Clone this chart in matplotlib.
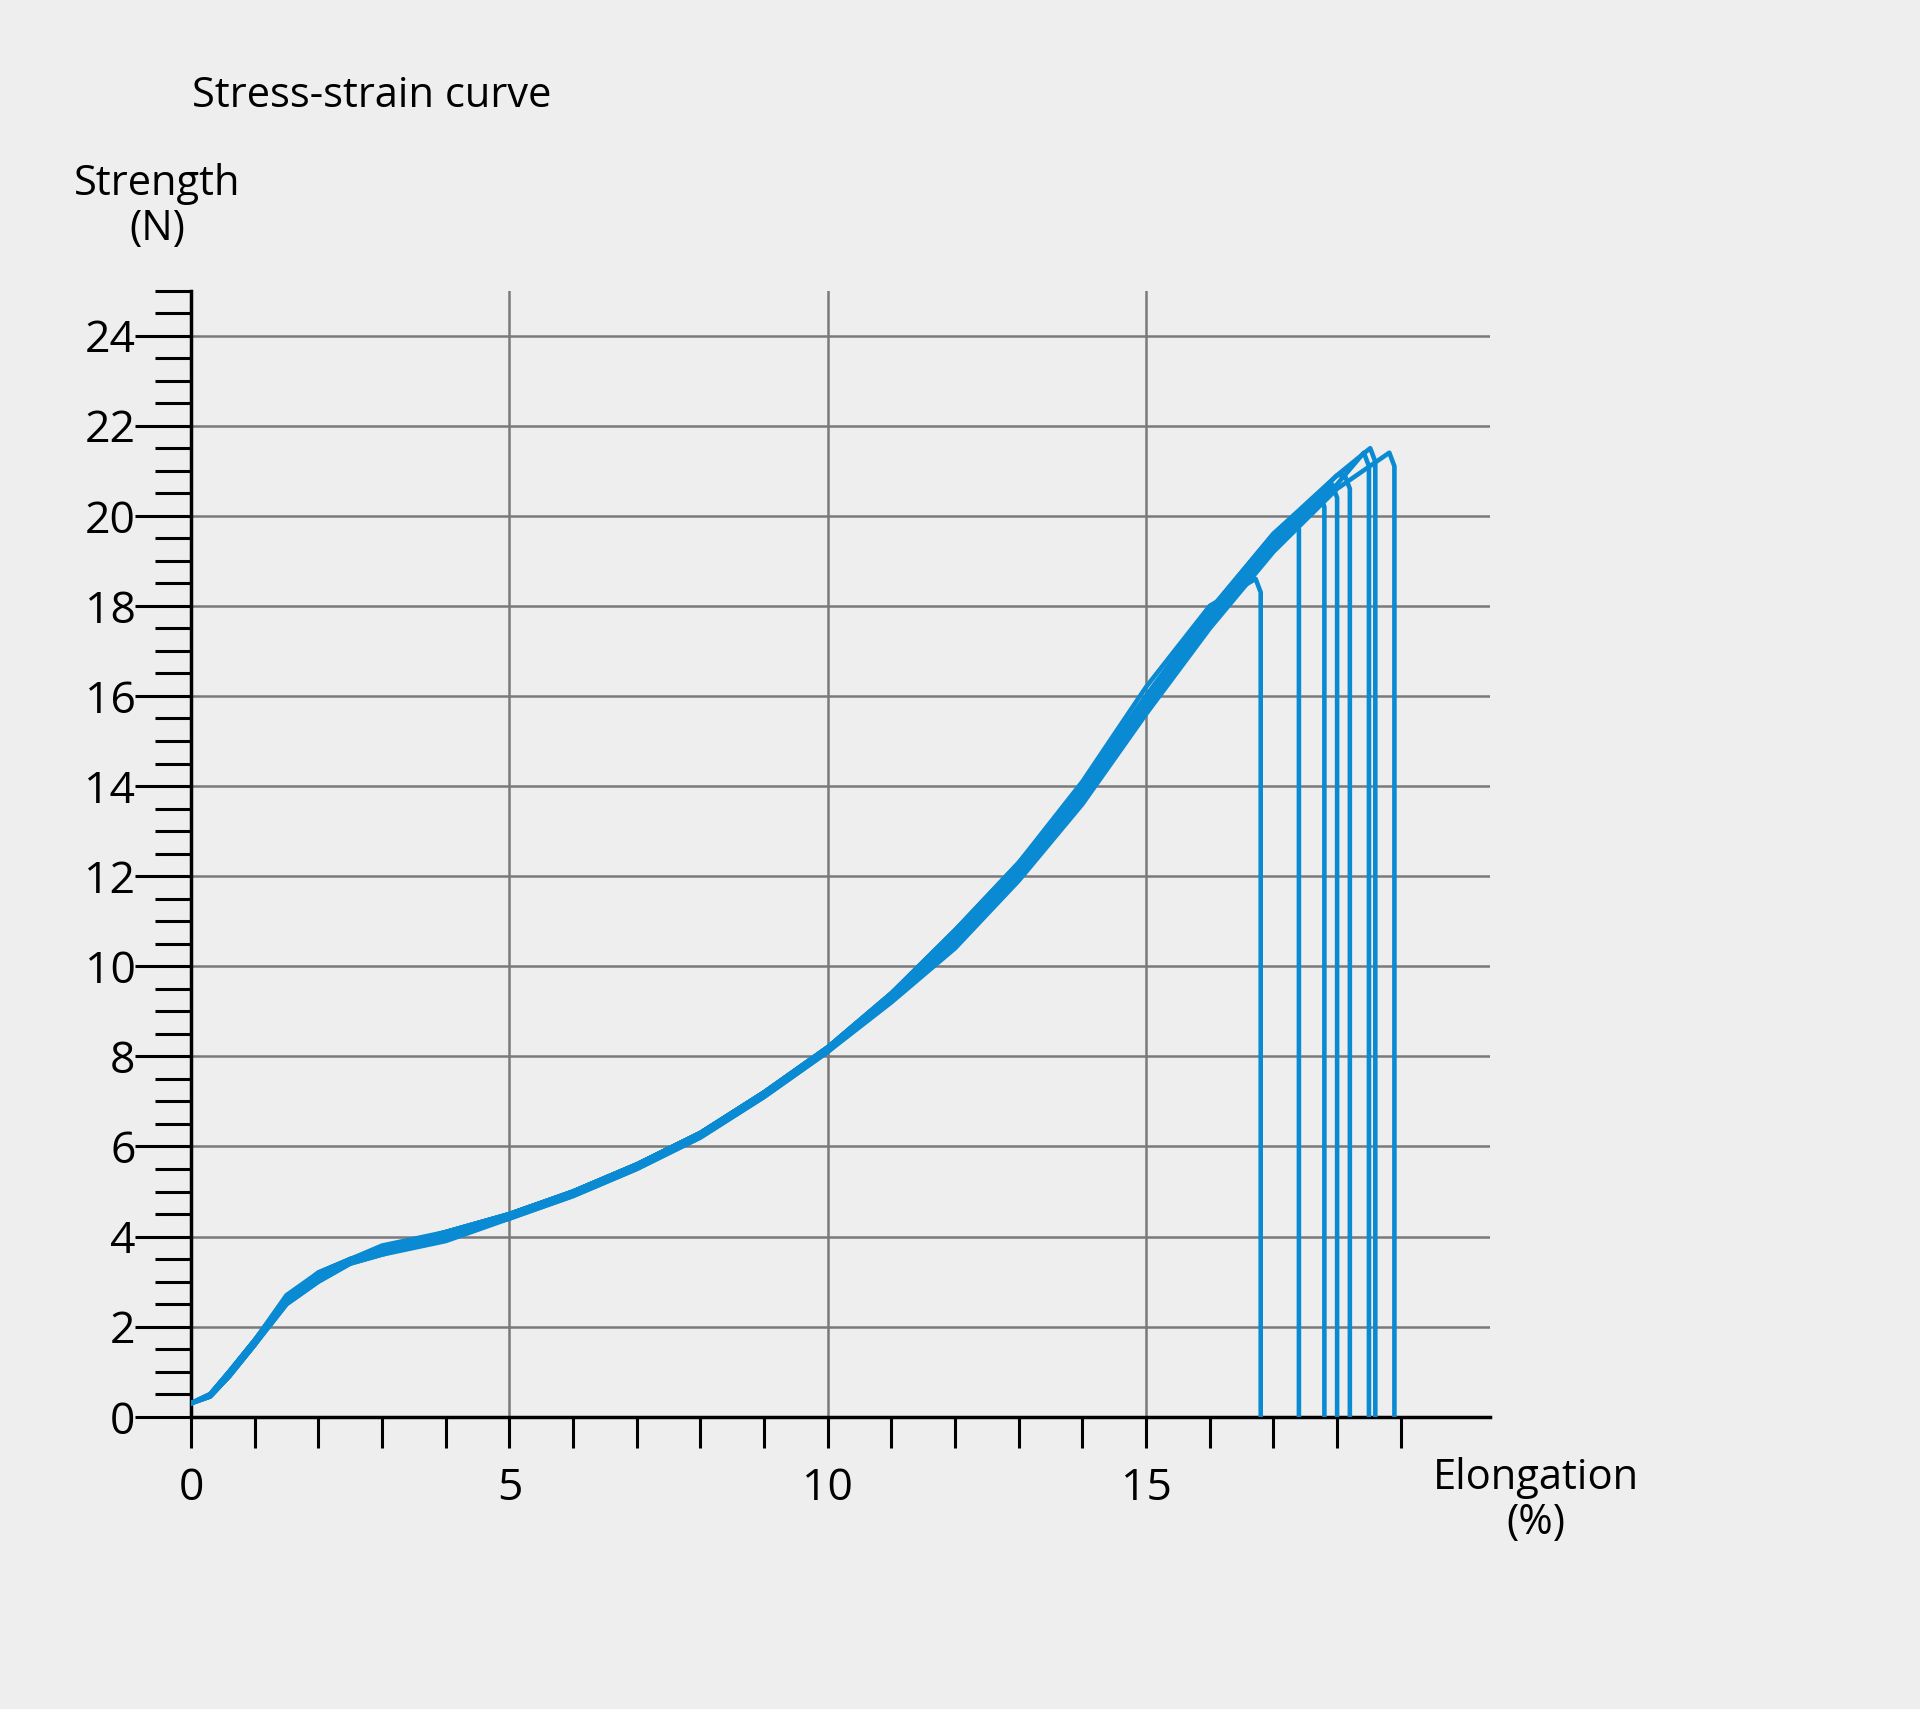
import matplotlib
matplotlib.use("Agg")
import matplotlib.pyplot as plt

# shared elongation sample points (%)
x_base = [0, 0.3, 0.6, 1.0, 1.5, 2.0, 2.5, 3.0, 4.0, 5.0, 6.0, 7.0, 8.0, 9.0, 10.0, 11.0, 12.0, 13.0, 14.0, 15.0, 16.0, 17.0, 18.0]
# strength curves (N) for each sample
y_curves = [
    [0.3, 0.5, 1.0, 1.7, 2.7, 3.2, 3.5, 3.7, 4.1, 4.5, 5.0, 5.6, 6.3, 7.2, 8.2, 9.4, 10.8, 12.3, 14.1, 16.2, 18.0],
    [0.3, 0.45, 0.9, 1.6, 2.6, 3.1, 3.5, 3.7, 4.0, 4.5, 5.0, 5.6, 6.3, 7.2, 8.2, 9.3, 10.6, 12.1, 13.9, 15.9, 17.8, 19.5],
    [0.3, 0.5, 1.0, 1.7, 2.6, 3.2, 3.5, 3.8, 4.1, 4.5, 5.0, 5.6, 6.3, 7.2, 8.2, 9.4, 10.8, 12.2, 14.0, 16.0, 17.9, 19.6],
    [0.3, 0.45, 0.9, 1.6, 2.5, 3.0, 3.4, 3.6, 4.0, 4.4, 4.9, 5.5, 6.2, 7.1, 8.1, 9.3, 10.6, 12.0, 13.8, 15.8, 17.7, 19.4],
    [0.3, 0.5, 1.0, 1.7, 2.6, 3.1, 3.5, 3.7, 4.1, 4.5, 5.0, 5.6, 6.3, 7.2, 8.2, 9.4, 10.7, 12.1, 13.9, 15.9, 17.8, 19.5, 20.9],
    [0.3, 0.45, 0.9, 1.6, 2.6, 3.1, 3.4, 3.7, 4.0, 4.4, 5.0, 5.6, 6.3, 7.2, 8.2, 9.3, 10.5, 12.0, 13.7, 15.7, 17.6, 19.3, 20.7],
    [0.3, 0.5, 1.0, 1.7, 2.6, 3.2, 3.5, 3.7, 4.1, 4.5, 5.0, 5.6, 6.3, 7.2, 8.2, 9.4, 10.8, 12.3, 14.0, 16.0, 17.9, 19.6, 20.9],
    [0.3, 0.45, 0.9, 1.6, 2.5, 3.0, 3.4, 3.6, 3.9, 4.4, 4.9, 5.5, 6.2, 7.1, 8.1, 9.2, 10.4, 11.9, 13.6, 15.6, 17.5, 19.2, 20.6],
]
# breaking elongation (%) and strength at break (N)
break_x = [16.8, 17.4, 17.8, 18.0, 18.2, 18.5, 18.6, 18.9]
break_y = [18.6, 20.0, 20.5, 20.7, 20.9, 21.4, 21.5, 21.4]

y_ticks = [0, 2, 4, 6, 8, 10, 12, 14, 16, 18, 20, 22, 24]
x_ticks = [0, 5, 10, 15]

bg = "#eeeeee"
blue = "#0a8ad2"
fig = plt.figure(figsize=(19.2, 17.09), dpi=100, facecolor=bg)
ax = fig.add_axes([0.0995, 0.171, 0.6765, 0.659], facecolor=bg)
ax.set_xlim(0, 20.4)
ax.set_ylim(0, 25)

for yv in y_ticks[1:]:
    ax.plot([0, 20.4], [yv, yv], color="#7a7a7a", lw=1.8, zorder=1)
for xv in x_ticks[1:]:
    ax.plot([xv, xv], [0, 25], color="#7a7a7a", lw=1.8, zorder=1)

for ys, bx, by in zip(y_curves, break_x, break_y):
    xs = x_base[:len(ys)] + [bx - 0.08, bx, bx]
    yv = list(ys) + [by, by - 0.3, 0]
    ax.plot(xs, yv, color=blue, lw=3.3, zorder=3, solid_joinstyle="round")

for s in ["top", "right"]:
    ax.spines[s].set_visible(False)
for s in ["left", "bottom"]:
    ax.spines[s].set_linewidth(2.5)
    ax.spines[s].set_color("black")

ax.set_yticks(y_ticks)
ax.set_yticklabels([str(v) for v in y_ticks], fontsize=32, family="Open Sans")
ax.set_yticks([v * 0.5 for v in range(0, 51)], minor=True)
ax.tick_params(axis="y", which="major", length=40, width=2.2, pad=0)
ax.tick_params(axis="y", which="minor", length=26, width=2.2)
ax.set_xticks(x_ticks)
ax.set_xticklabels([str(v) for v in x_ticks], fontsize=32, family="Open Sans")
ax.set_xticks(range(0, 20), minor=True)
ax.tick_params(axis="x", which="both", length=22, width=2.2, pad=14)

fig.text(0.1, 0.944, "Stress-strain curve", fontsize=30, family="Open Sans", va="center")
fig.text(0.082, 0.879, "Strength\n(N)", fontsize=30, family="Open Sans", ha="center", va="center", linespacing=1.1)
fig.text(0.80, 0.122, "Elongation\n(%)", fontsize=30, family="Open Sans", ha="center", va="center", linespacing=1.1)

fig.savefig("out.png", dpi=100, facecolor=bg)
